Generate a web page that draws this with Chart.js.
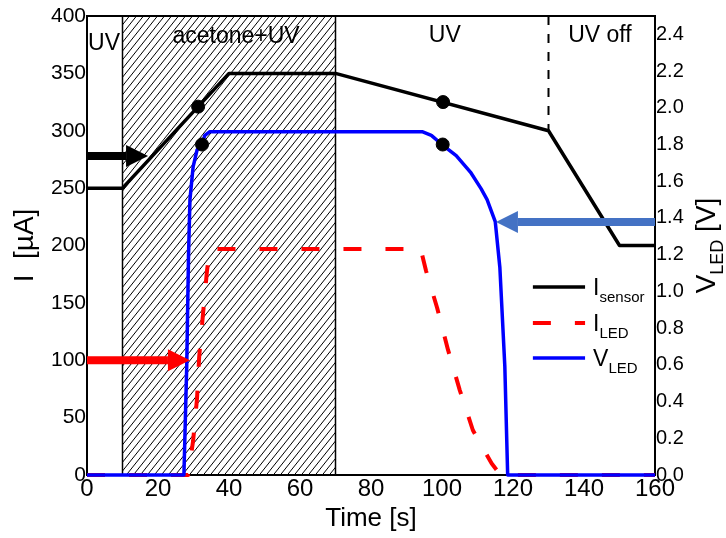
<!DOCTYPE html>
<html>
<head>
<meta charset="utf-8">
<script src="https://cdn.jsdelivr.net/npm/chart.js@4.4.0/dist/chart.umd.min.js"></script>
<style>
  html, body { margin: 0; padding: 0; background: #fff; }
  #wrap { width: 726px; height: 538px; }
</style>
</head>
<body>
<div id="wrap"><canvas id="chart" width="726" height="538"></canvas></div>
<script>
// ---- data ----
// I_sensor [uA]
const tSensor = [0, 10, 40, 70, 130, 150, 160];
const iSensor = [250, 250, 350, 350, 300, 200, 200];

// I_LED [uA]
const tLed = [0, 28.5, 29.9, 31.0, 31.6, 32.7, 33.8, 34.6, 94, 95.5, 98.6, 101.7, 105, 108.7, 114, 116.5, 160];
const iLed = [0, 0, 30, 67, 103, 141, 178, 197, 197, 178, 146, 109, 74, 39, 10, 0, 0];

// V_LED [V]
const tV = [0, 27.3, 28.1, 28.6, 29.0, 29.9, 31.0, 32.4, 33.2, 34.6, 94.4, 97, 100, 104, 108, 111, 112.7, 115, 116.3, 117.7, 118.5, 160];
const vLed = [0, 0, 0.6, 1.2, 1.5, 1.68, 1.77, 1.80, 1.85, 1.87, 1.87, 1.85, 1.80, 1.74, 1.65, 1.56, 1.50, 1.38, 1.13, 0.59, 0, 0];

// black dots
const dotT = [31.3, 100.3];
const dotI = [321, 325];
const dotTV = [32.4, 100.2];
const dotV = [1.80, 1.80];

// ticks
const xTicks = [0, 20, 40, 60, 80, 100, 120, 140, 160];
const iTicks = [0, 50, 100, 150, 200, 250, 300, 350, 400];
const vTicks = [0, 0.2, 0.4, 0.6, 0.8, 1.0, 1.2, 1.4, 1.6, 1.8, 2.0, 2.2, 2.4];

// regions / annotations
const acetoneSpan = [10, 70];
const uvOffAt = 130;
const regionText = ['UV', 'acetone+UV', 'UV', 'UV off'];
const regionT = [4.8, 42, 100.8, 144.5];
const regionI = [376, 382, 383, 383];

const legendMain = ['I', 'I', 'V'];
const legendSub = ['sensor', 'LED', 'LED'];

const FONT = "'Liberation Sans', Arial, sans-serif";

const toXY = (xs, ys) => xs.map((x, i) => ({ x: x, y: ys[i] }));

// arrow: shaft + triangular head
function arrow(c, x0, y, x1, color) {
  const dir = x1 > x0 ? 1 : -1;
  const head = 22, half = 11, shaft = 8;
  c.save();
  c.fillStyle = color;
  c.fillRect(Math.min(x0, x1 - dir * head), y - shaft / 2, Math.abs(x1 - dir * head - x0), shaft);
  c.beginPath();
  c.moveTo(x1, y);
  c.lineTo(x1 - dir * head, y - half);
  c.lineTo(x1 - dir * head, y + half);
  c.closePath();
  c.fill();
  c.restore();
}

const decor = {
  id: 'decor',
  beforeDatasetsDraw(chart) {
    const { ctx: c, chartArea: a, scales: { x } } = chart;
    const x0 = x.getPixelForValue(acetoneSpan[0]);
    const x1 = x.getPixelForValue(acetoneSpan[1]);
    // hatched acetone window
    c.save();
    c.beginPath();
    c.rect(x0, a.top, x1 - x0, a.bottom - a.top);
    c.clip();
    c.strokeStyle = '#000';
    c.lineWidth = 1;
    const h = a.bottom - a.top;
    const run = h / 1.25;
    c.beginPath();
    for (let k = x0 - run; k < x1 + 7; k += 7) {
      c.moveTo(k, a.bottom);
      c.lineTo(k + run, a.top);
    }
    c.stroke();
    c.restore();
    c.save();
    c.strokeStyle = '#000';
    c.lineWidth = 1.5;
    c.strokeRect(x0, a.top, x1 - x0, a.bottom - a.top);
    c.restore();

    // dashed marker where UV goes off
    const xo = x.getPixelForValue(uvOffAt);
    c.save();
    c.strokeStyle = '#000';
    c.lineWidth = 2;
    c.setLineDash([9, 9]);
    c.beginPath();
    c.moveTo(xo, a.top);
    c.lineTo(xo, chart.scales.y.getPixelForValue(300));
    c.stroke();
    c.restore();
  },
  afterDatasetsDraw(chart) {
    const { ctx: c, chartArea: a, scales: { x, y, y1 } } = chart;

    // top frame line
    c.save();
    c.strokeStyle = '#000';
    c.lineWidth = 2;
    c.beginPath();
    c.moveTo(a.left, a.top);
    c.lineTo(a.right, a.top);
    c.stroke();
    c.restore();

    // region labels
    c.save();
    c.fillStyle = '#000';
    c.font = '23px ' + FONT;
    c.textAlign = 'center';
    c.textBaseline = 'middle';
    regionText.forEach((s, i) => {
      c.fillText(s, x.getPixelForValue(regionT[i]), y.getPixelForValue(regionI[i]));
    });
    c.restore();

    // arrows
    arrow(c, a.left, y.getPixelForValue(278), x.getPixelForValue(17.2), '#000000');
    arrow(c, a.left, y.getPixelForValue(100), x.getPixelForValue(29), '#FF0000');
    arrow(c, a.right, y1.getPixelForValue(1.378), x.getPixelForValue(115.2), '#4472C4');

    // legend
    const lx0 = x.getPixelForValue(125.6), lx1 = x.getPixelForValue(140.3);
    const rows = [163.8, 132.5, 102];
    for (let i = 0; i < 3; i++) {
      const ds = chart.data.datasets[i];
      const ly = y.getPixelForValue(rows[i]);
      c.save();
      c.strokeStyle = ds.borderColor;
      c.lineWidth = ds.borderWidth;
      c.setLineDash(ds.borderDash || []);
      c.beginPath();
      c.moveTo(lx0, ly);
      c.lineTo(lx1, ly);
      c.stroke();
      c.setLineDash([]);
      c.fillStyle = '#000';
      c.textBaseline = 'alphabetic';
      c.textAlign = 'left';
      c.font = '23px ' + FONT;
      const tx = lx1 + 8;
      c.fillText(legendMain[i], tx, ly + 8);
      const w = c.measureText(legendMain[i]).width;
      c.font = '15px ' + FONT;
      c.fillText(legendSub[i], tx + w, ly + 15);
      c.restore();
    }

    // right axis title V_LED [V], reading upwards
    c.save();
    c.translate(715, (a.top + a.bottom) / 2);
    c.rotate(-Math.PI / 2);
    c.fillStyle = '#000';
    c.textBaseline = 'alphabetic';
    c.textAlign = 'left';
    c.font = '28px ' + FONT;
    const wV = c.measureText('V').width;
    c.font = '18px ' + FONT;
    const wSub = c.measureText('LED').width;
    c.font = '28px ' + FONT;
    const wRest = c.measureText(' [V]').width;
    let px = -(wV + wSub + wRest) / 2;
    c.fillText('V', px, 0);
    px += wV;
    c.font = '18px ' + FONT;
    c.fillText('LED', px, 8);
    px += wSub;
    c.font = '28px ' + FONT;
    c.fillText(' [V]', px, 0);
    c.restore();
  }
};

new Chart(document.getElementById('chart'), {
  type: 'line',
  data: {
    datasets: [
      { label: 'I_sensor', data: toXY(tSensor, iSensor), yAxisID: 'y', borderColor: '#000000', borderWidth: 3.5, pointRadius: 0, order: 3, clip: false },
      { label: 'I_LED', data: toXY(tLed, iLed), yAxisID: 'y', borderColor: '#FF0000', borderWidth: 4, borderDash: [18, 24], pointRadius: 0, order: 2, clip: false },
      { label: 'V_LED', data: toXY(tV, vLed), yAxisID: 'y1', borderColor: '#0000FF', borderWidth: 3.5, pointRadius: 0, order: 1, clip: false },
      { label: 'dotsI', data: toXY(dotT, dotI), yAxisID: 'y', showLine: false, pointRadius: 6.5, backgroundColor: '#000', borderColor: '#000', order: 0 },
      { label: 'dotsV', data: toXY(dotTV, dotV), yAxisID: 'y1', showLine: false, pointRadius: 6.5, backgroundColor: '#000', borderColor: '#000', order: 0 }
    ]
  },
  options: {
    responsive: false,
    animation: false,
    layout: { padding: { top: 16, left: 0, right: 0, bottom: 0 } },
    plugins: { legend: { display: false }, tooltip: { enabled: false } },
    elements: { line: { tension: 0, borderCapStyle: 'butt', borderJoinStyle: 'round' } },
    scales: {
      x: {
        type: 'linear', min: 0, max: 160,
        afterBuildTicks: s => { s.ticks = xTicks.map(v => ({ value: v })); },
        afterFit: s => { s.height = 63; },
        grid: { display: false, drawTicks: false },
        border: { display: true, color: '#000', width: 2 },
        ticks: { color: '#000', padding: 0, maxRotation: 0, autoSkip: false, font: { family: FONT, size: 24 } },
        title: { display: true, text: 'Time [s]', color: '#000', padding: { top: 0, bottom: 4 }, font: { family: FONT, size: 26 } }
      },
      y: {
        position: 'left', min: 0, max: 400,
        afterBuildTicks: s => { s.ticks = iTicks.map(v => ({ value: v })); },
        afterFit: s => { s.width = 87; },
        grid: { display: false, drawTicks: false },
        border: { display: true, color: '#000', width: 2 },
        ticks: { color: '#000', padding: 1, font: { family: FONT, size: 21 }, callback: v => String(v) },
        title: { display: true, text: 'I  [\u00B5A]', color: '#000', padding: { top: 8, bottom: 0 }, font: { family: FONT, size: 28 } }
      },
      y1: {
        position: 'right', min: 0, max: 2.5,
        afterBuildTicks: s => { s.ticks = vTicks.map(v => ({ value: v })); },
        afterFit: s => { s.width = 71; },
        grid: { display: false, drawTicks: false },
        border: { display: true, color: '#000', width: 2 },
        ticks: { color: '#000', padding: 1, font: { family: FONT, size: 20 }, callback: v => v.toFixed(1) }
      }
    }
  },
  plugins: [decor]
});
</script>
</body>
</html>
